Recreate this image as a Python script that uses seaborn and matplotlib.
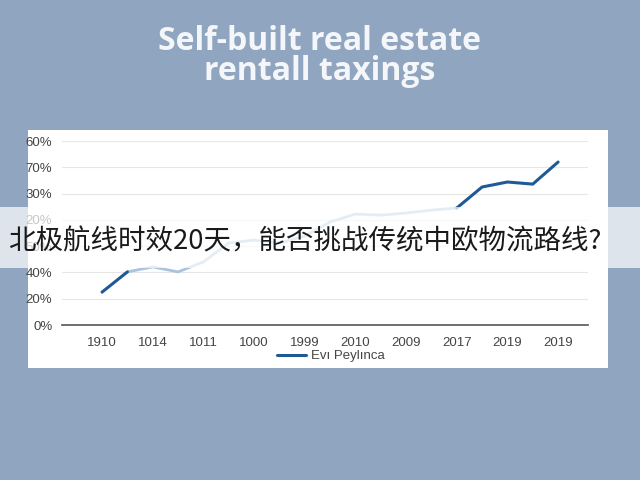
import numpy as np
import pandas as pd
import matplotlib
matplotlib.use("Agg")
import matplotlib.pyplot as plt
from matplotlib.patches import Rectangle
import seaborn as sns

# values
x_labels = ["1910", "1014", "1011", "1000", "1999", "2010", "2009", "2017", "2019", "2019"]
y_tick_labels = ["0%", "20%", "40%", "50%", "20%", "30%", "70%", "60%"]
values = [12.5, 20.2, 22.1, 20.2, 24.0, 31.2, 32.3, 31.2, 33.8, 39.2,
          42.2, 41.8, 42.6, 43.7, 44.5, 52.5, 54.4, 53.6, 62.0]
series_name = "Evı Peylınca"

df = pd.DataFrame({"pos": np.arange(len(values)) / 2, "val": values})

sns.set_theme(style="whitegrid")
plt.rcParams['font.family'] = ['Liberation Sans', 'DejaVu Sans']

bg = "#8fa5c0"
dark = "#1f5a96"
light = "#a9c4dc"

fig = plt.figure(figsize=(6.4, 4.8), dpi=100, facecolor=bg)

# white chart card
fig.add_artist(Rectangle((28 / 640, 112 / 480), 580 / 640, 238 / 480,
                         transform=fig.transFigure, facecolor="white",
                         edgecolor="none", zorder=0))

ax = fig.add_axes([62 / 640, 155 / 480, 526 / 640, 184 / 480])
ax.set_facecolor("none")

sns.lineplot(data=df.iloc[1:15], x="pos", y="val", ax=ax, color=light, linewidth=2, legend=False)
sns.lineplot(data=df.iloc[0:2], x="pos", y="val", ax=ax, color=dark, linewidth=2.2,
             label=series_name, legend=False)
sns.lineplot(data=df.iloc[14:], x="pos", y="val", ax=ax, color=dark, linewidth=2.2, legend=False)

ax.set_xlim(-0.79, 9.59)
ax.set_ylim(0, 70)
ax.set_xticks(range(len(x_labels)))
ax.set_xticklabels(x_labels)
ax.set_yticks(np.arange(0, 71, 10))
ax.set_yticklabels(y_tick_labels)
ax.tick_params(axis="both", labelsize=9.5, colors="#444444", length=0)
ax.tick_params(axis="x", pad=9)
ax.tick_params(axis="y", pad=7)
ax.grid(axis="x", visible=False)
ax.grid(axis="y", color="#e6e6e6", linewidth=0.8)
for side in ["top", "right", "left"]:
    ax.spines[side].set_visible(False)
ax.spines["bottom"].set_color("#555555")
ax.spines["bottom"].set_linewidth(1.2)
ax.set_xlabel("")
ax.set_ylabel("")

handles, labels = ax.get_legend_handles_labels()
fig.legend(handles, labels, loc="center", bbox_to_anchor=(0.517, 0.258),
           frameon=False, fontsize=9.5, handlelength=2.2, handletextpad=0.4,
           labelcolor="#444444")

# title
title_font = ["Open Sans", "DejaVu Sans"]
fig.text(0.5, 1 - 41 / 480, "Self-built real estate", ha="center", va="center",
         color="#f4f6f9", fontsize=23, fontweight="bold", family=title_font)
fig.text(0.5, 1 - 71 / 480, "rentall taxings", ha="center", va="center",
         color="#f4f6f9", fontsize=23, fontweight="bold", family=title_font)

# overlay caption band
fig.add_artist(Rectangle((0, 212 / 480), 1, 61 / 480, transform=fig.transFigure,
                         facecolor="white", alpha=0.7, edgecolor="none", zorder=5))
fig.text(8 / 640, 1 - 242 / 480, "北极航线时效20天，能否挑战传统中欧物流路线?",
         ha="left", va="center", color="#1a1a1a", fontsize=19.8, zorder=6,
         family=["Noto Sans CJK SC", "DejaVu Sans"])

fig.savefig("out.png", dpi=100, facecolor=bg)
